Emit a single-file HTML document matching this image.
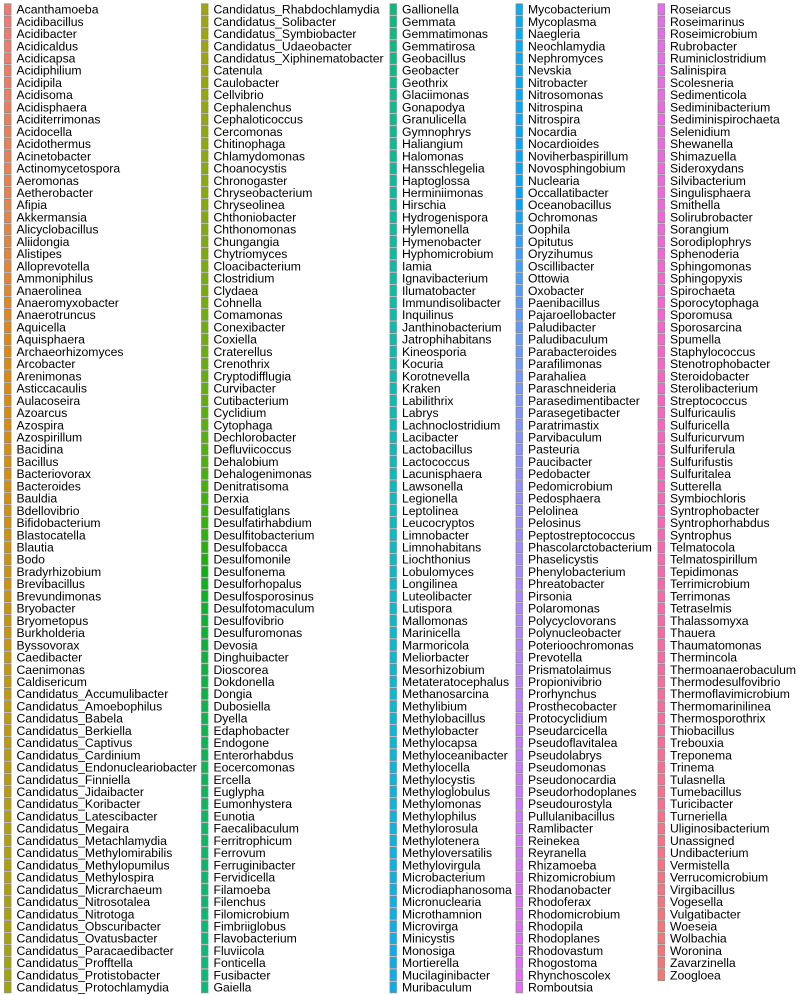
<!DOCTYPE html>
<html><head><meta charset="utf-8"><style>
html,body{margin:0;padding:0;background:#fff;}
svg{display:block;}
text{font-family:"Liberation Sans",Arial,sans-serif;font-size:12.2px;fill:#000;}
</style></head><body>
<svg id="legend" width="800" height="995" viewBox="0 0 800 995"></svg>
<script>
const col1Labels=["Acanthamoeba","Acidibacillus","Acidibacter","Acidicaldus","Acidicapsa","Acidiphilium","Acidipila","Acidisoma","Acidisphaera","Aciditerrimonas","Acidocella","Acidothermus","Acinetobacter","Actinomycetospora","Aeromonas","Aetherobacter","Afipia","Akkermansia","Alicyclobacillus","Aliidongia","Alistipes","Alloprevotella","Ammoniphilus","Anaerolinea","Anaeromyxobacter","Anaerotruncus","Aquicella","Aquisphaera","Archaeorhizomyces","Arcobacter","Arenimonas","Asticcacaulis","Aulacoseira","Azoarcus","Azospira","Azospirillum","Bacidina","Bacillus","Bacteriovorax","Bacteroides","Bauldia","Bdellovibrio","Bifidobacterium","Blastocatella","Blautia","Bodo","Bradyrhizobium","Brevibacillus","Brevundimonas","Bryobacter","Bryometopus","Burkholderia","Byssovorax","Caedibacter","Caenimonas","Caldisericum","Candidatus_Accumulibacter","Candidatus_Amoebophilus","Candidatus_Babela","Candidatus_Berkiella","Candidatus_Captivus","Candidatus_Cardinium","Candidatus_Endonucleariobacter","Candidatus_Finniella","Candidatus_Jidaibacter","Candidatus_Koribacter","Candidatus_Latescibacter","Candidatus_Megaira","Candidatus_Metachlamydia","Candidatus_Methylomirabilis","Candidatus_Methylopumilus","Candidatus_Methylospira","Candidatus_Micrarchaeum","Candidatus_Nitrosotalea","Candidatus_Nitrotoga","Candidatus_Obscuribacter","Candidatus_Ovatusbacter","Candidatus_Paracaedibacter","Candidatus_Profftella","Candidatus_Protistobacter","Candidatus_Protochlamydia"];
const col2Labels=["Candidatus_Rhabdochlamydia","Candidatus_Solibacter","Candidatus_Symbiobacter","Candidatus_Udaeobacter","Candidatus_Xiphinematobacter","Catenula","Caulobacter","Cellvibrio","Cephalenchus","Cephaloticoccus","Cercomonas","Chitinophaga","Chlamydomonas","Choanocystis","Chronogaster","Chryseobacterium","Chryseolinea","Chthoniobacter","Chthonomonas","Chungangia","Chytriomyces","Cloacibacterium","Clostridium","Clydaea","Cohnella","Comamonas","Conexibacter","Coxiella","Craterellus","Crenothrix","Cryptodifflugia","Curvibacter","Cutibacterium","Cyclidium","Cytophaga","Dechlorobacter","Defluviicoccus","Dehalobium","Dehalogenimonas","Denitratisoma","Derxia","Desulfatiglans","Desulfatirhabdium","Desulfitobacterium","Desulfobacca","Desulfomonile","Desulfonema","Desulforhopalus","Desulfosporosinus","Desulfotomaculum","Desulfovibrio","Desulfuromonas","Devosia","Dinghuibacter","Dioscorea","Dokdonella","Dongia","Dubosiella","Dyella","Edaphobacter","Endogone","Enterorhabdus","Eocercomonas","Ercella","Euglypha","Eumonhystera","Eunotia","Faecalibaculum","Ferritrophicum","Ferrovum","Ferruginibacter","Fervidicella","Filamoeba","Filenchus","Filomicrobium","Fimbriiglobus","Flavobacterium","Fluviicola","Fonticella","Fusibacter","Gaiella"];
const col3Labels=["Gallionella","Gemmata","Gemmatimonas","Gemmatirosa","Geobacillus","Geobacter","Geothrix","Glaciimonas","Gonapodya","Granulicella","Gymnophrys","Haliangium","Halomonas","Hansschlegelia","Haptoglossa","Herminiimonas","Hirschia","Hydrogenispora","Hylemonella","Hymenobacter","Hyphomicrobium","Iamia","Ignavibacterium","Ilumatobacter","Immundisolibacter","Inquilinus","Janthinobacterium","Jatrophihabitans","Kineosporia","Kocuria","Korotnevella","Kraken","Labilithrix","Labrys","Lachnoclostridium","Lacibacter","Lactobacillus","Lactococcus","Lacunisphaera","Lawsonella","Legionella","Leptolinea","Leucocryptos","Limnobacter","Limnohabitans","Liochthonius","Lobulomyces","Longilinea","Luteolibacter","Lutispora","Mallomonas","Marinicella","Marmoricola","Meliorbacter","Mesorhizobium","Metateratocephalus","Methanosarcina","Methylibium","Methylobacillus","Methylobacter","Methylocapsa","Methyloceanibacter","Methylocella","Methylocystis","Methyloglobulus","Methylomonas","Methylophilus","Methylorosula","Methylotenera","Methyloversatilis","Methylovirgula","Microbacterium","Microdiaphanosoma","Micronuclearia","Microthamnion","Microvirga","Minicystis","Monosiga","Mortierella","Mucilaginibacter","Muribaculum"];
const col4Labels=["Mycobacterium","Mycoplasma","Naegleria","Neochlamydia","Nephromyces","Nevskia","Nitrobacter","Nitrosomonas","Nitrospina","Nitrospira","Nocardia","Nocardioides","Noviherbaspirillum","Novosphingobium","Nuclearia","Occallatibacter","Oceanobacillus","Ochromonas","Oophila","Opitutus","Oryzihumus","Oscillibacter","Ottowia","Oxobacter","Paenibacillus","Pajaroellobacter","Paludibacter","Paludibaculum","Parabacteroides","Parafilimonas","Parahaliea","Paraschneideria","Parasedimentibacter","Parasegetibacter","Paratrimastix","Parvibaculum","Pasteuria","Paucibacter","Pedobacter","Pedomicrobium","Pedosphaera","Pelolinea","Pelosinus","Peptostreptococcus","Phascolarctobacterium","Phaselicystis","Phenylobacterium","Phreatobacter","Pirsonia","Polaromonas","Polycyclovorans","Polynucleobacter","Poterioochromonas","Prevotella","Prismatolaimus","Propionivibrio","Prorhynchus","Prosthecobacter","Protocyclidium","Pseudarcicella","Pseudoflavitalea","Pseudolabrys","Pseudomonas","Pseudonocardia","Pseudorhodoplanes","Pseudourostyla","Pullulanibacillus","Ramlibacter","Reinekea","Reyranella","Rhizamoeba","Rhizomicrobium","Rhodanobacter","Rhodoferax","Rhodomicrobium","Rhodopila","Rhodoplanes","Rhodovastum","Rhogostoma","Rhynchoscolex","Romboutsia"];
const col5Labels=["Roseiarcus","Roseimarinus","Roseimicrobium","Rubrobacter","Ruminiclostridium","Salinispira","Scolesneria","Sedimenticola","Sediminibacterium","Sediminispirochaeta","Selenidium","Shewanella","Shimazuella","Sideroxydans","Silvibacterium","Singulisphaera","Smithella","Solirubrobacter","Sorangium","Sorodiplophrys","Sphenoderia","Sphingomonas","Sphingopyxis","Spirochaeta","Sporocytophaga","Sporomusa","Sporosarcina","Spumella","Staphylococcus","Stenotrophobacter","Steroidobacter","Sterolibacterium","Streptococcus","Sulfuricaulis","Sulfuricella","Sulfuricurvum","Sulfuriferula","Sulfurifustis","Sulfuritalea","Sutterella","Symbiochloris","Syntrophobacter","Syntrophorhabdus","Syntrophus","Telmatocola","Telmatospirillum","Tepidimonas","Terrimicrobium","Terrimonas","Tetraselmis","Thalassomyxa","Thauera","Thaumatomonas","Thermincola","Thermoanaerobaculum","Thermodesulfovibrio","Thermoflavimicrobium","Thermomarinilinea","Thermosporothrix","Thiobacillus","Trebouxia","Treponema","Trinema","Tulasnella","Tumebacillus","Turicibacter","Turneriella","Uliginosibacterium","Unassigned","Undibacterium","Vermistella","Verrucomicrobium","Virgibacillus","Vogesella","Vulgatibacter","Woeseia","Wolbachia","Woronina","Zavarzinella","Zoogloea"];
const columns=[col1Labels,col2Labels,col3Labels,col4Labels,col5Labels];
const colTextX=[16.5,213.5,402,528,670];

function hcl(h,c,l){
  const hr=h*Math.PI/180, U=c*Math.cos(hr), V=c*Math.sin(hr);
  const Xn=95.047,Yn=100,Zn=108.883;
  const Y=l>8?Yn*Math.pow((l+16)/116,3):Yn*l/903.3;
  const d=Xn+15*Yn+3*Zn, un=4*Xn/d, vn=9*Yn/d;
  const u=U/(13*l)+un, v=V/(13*l)+vn;
  const X=9*Y*u/(4*v), Z=-X/3-5*Y+3*Y/v;
  const x=X/100,y=Y/100,z=Z/100;
  let r=3.240479*x-1.537150*y-0.498535*z;
  let g=-0.969256*x+1.875992*y+0.041556*z;
  let b=0.055648*x-0.204043*y+1.057311*z;
  const gam=t=>{t=t<=0.0031308?12.92*t:1.055*Math.pow(t,1/2.4)-0.055;return Math.round(Math.max(0,Math.min(1,t))*255);};
  return `rgb(${gam(r)},${gam(g)},${gam(b)})`;
}
const svg=document.getElementById('legend');
const NS='http://www.w3.org/2000/svg';
const total=columns.reduce((s,c)=>s+c.length,0);
const y0=9.3, sp=12.225;
let idx=0;
columns.forEach((labels,ci)=>{
  labels.forEach((lab,ri)=>{
    const cy=y0+ri*sp;
    const col=hcl(15+360*idx/total,100,65);
    const g=document.createElementNS(NS,'g');
    
    
    const r=document.createElementNS(NS,'rect');
    
    
    r.setAttribute('x',colTextX[ci]-12);
    r.setAttribute('y',cy-5.5);
    r.setAttribute('width',6.5);
    r.setAttribute('height',11);
    r.setAttribute('fill',col);
    r.setAttribute('stroke','#8a8a8a');
    r.setAttribute('stroke-width','0.8');
    const t=document.createElementNS(NS,'text');
    
    
    t.setAttribute('x',colTextX[ci]);
    t.setAttribute('y',cy+4.3);
    t.textContent=lab;
    g.appendChild(r);g.appendChild(t);svg.appendChild(g);
    idx++;
  });
});
</script>
</body></html>
